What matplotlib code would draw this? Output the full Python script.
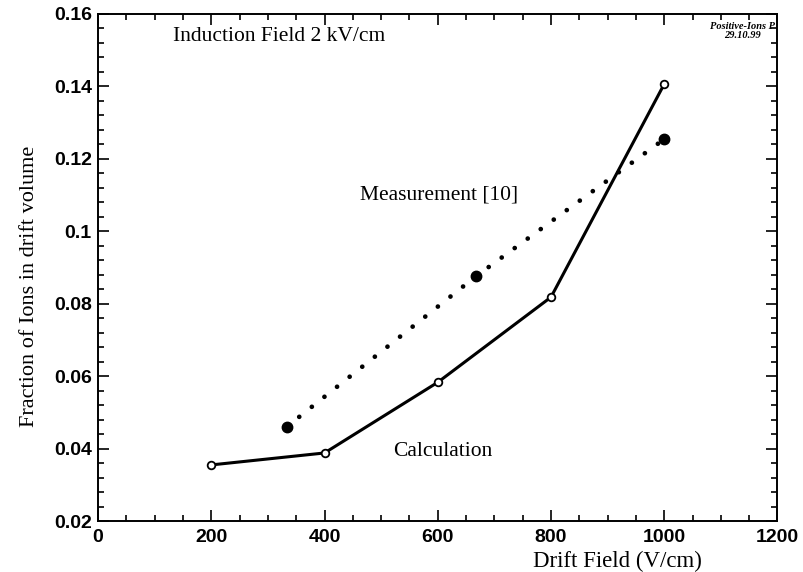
"""Fraction of ions in drift volume vs drift field."""

import matplotlib
matplotlib.use("Agg")
import matplotlib.pyplot as plt
from matplotlib.ticker import MultipleLocator, FormatStrFormatter, FuncFormatter

# ---------------------------------------------------------------------------
# Data
# ---------------------------------------------------------------------------

CALC_FIELD = [200, 400, 600, 800, 1000]
CALC_FRACTION = [0.0355, 0.0388, 0.0583, 0.0818, 0.1406]

MEAS_FIELD = [333, 667, 1000]
MEAS_FRACTION = [0.046, 0.0875, 0.1254]

SERIF = "Liberation Serif"
SANS = "Liberation Sans"


def main():
    fig = plt.figure(figsize=(8.04, 5.72), dpi=100)
    ax = fig.add_axes([0.122, 0.089, 0.845, 0.887])

    # Calculation: solid line with open circles
    ax.plot(CALC_FIELD, CALC_FRACTION, color="black", linewidth=2.2,
            marker="o", markersize=5.5, markerfacecolor="white",
            markeredgecolor="black", markeredgewidth=1.3, zorder=3)

    # Measurement: dotted line with big filled dots
    ax.plot(MEAS_FIELD, MEAS_FRACTION, color="black", linewidth=3.4,
            linestyle=(0, (0.01, 3.4)), dash_capstyle="round", zorder=2)
    ax.plot(MEAS_FIELD, MEAS_FRACTION, linestyle="none", marker="o",
            markersize=7.5, color="black", zorder=3)

    ax.set_xlim(0, 1200)
    ax.set_ylim(0.02, 0.16)

    ax.xaxis.set_major_locator(MultipleLocator(200))
    ax.xaxis.set_minor_locator(MultipleLocator(50))
    ax.yaxis.set_major_locator(MultipleLocator(0.02))
    ax.yaxis.set_minor_locator(MultipleLocator(0.004))
    ax.yaxis.set_major_formatter(FuncFormatter(lambda v, _: f"{v:g}"))
    ax.xaxis.set_major_formatter(FormatStrFormatter("%d"))

    ax.tick_params(which="both", direction="in", top=True, right=True,
                   width=1.2)
    ax.tick_params(which="major", length=8, labelsize=14)
    ax.tick_params(axis="x", which="major", pad=6)
    ax.tick_params(axis="y", which="major", pad=4.5)
    ax.tick_params(which="minor", length=4)
    for lab in ax.get_xticklabels() + ax.get_yticklabels():
        lab.set_fontfamily(SANS)
        lab.set_fontweight("bold")

    for spine in ax.spines.values():
        spine.set_linewidth(1.4)

    ax.set_xlabel("Drift Field (V/cm)", fontsize=16.5, family=SERIF, ha="center")
    ax.xaxis.set_label_coords(0.764, -0.058)
    ax.set_ylabel("Fraction of Ions in drift volume", fontsize=16, family=SERIF)
    ax.yaxis.set_label_coords(-0.087, 0.463)

    ax.text(0.11, 0.955, "Induction Field 2 kV/cm", transform=ax.transAxes,
            fontsize=15.5, family=SERIF, ha="left", va="center")
    ax.text(0.385, 0.642, "Measurement [10]", transform=ax.transAxes,
            fontsize=15.5, family=SERIF, ha="left", va="center")
    ax.text(0.435, 0.137, "Calculation", transform=ax.transAxes,
            fontsize=15.5, family=SERIF, ha="left", va="center")

    ax.text(0.997, 0.984, "Positive-Ions P", transform=ax.transAxes,
            fontsize=7.5, family=SERIF, style="italic", fontweight="bold",
            ha="right", va="top")
    ax.text(0.975, 0.965, "29.10.99", transform=ax.transAxes,
            fontsize=7.5, family=SERIF, style="italic", fontweight="bold",
            ha="right", va="top")

    fig.savefig("out.png", dpi=100, facecolor="white")
    plt.close(fig)


if __name__ == "__main__":
    main()
